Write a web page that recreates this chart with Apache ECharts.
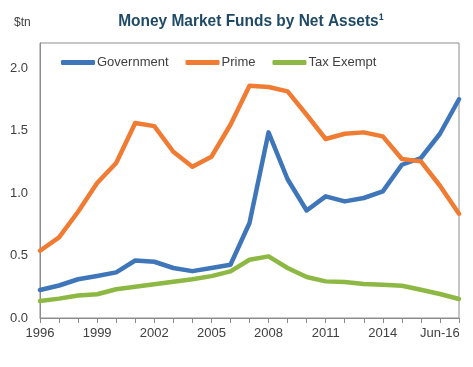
<!DOCTYPE html>
<html><head><meta charset="utf-8">
<script src="https://cdn.jsdelivr.net/npm/echarts@6/dist/echarts.min.js"></script>
<style>html,body{margin:0;padding:0;background:#fff}#c{width:473px;height:367px}</style>
</head><body><div id="c"></div>
<script>
const categories = ['1996','1997','1998','1999','2000','2001','2002','2003','2004','2005','2006','2007','2008','2009','2010','2011','2012','2013','2014','2015','Mar-16','Jun-16','Sep-16'];
const government = [0.224,0.26,0.31,0.336,0.365,0.46,0.45,0.40,0.375,0.40,0.426,0.76,1.485,1.11,0.86,0.973,0.933,0.96,1.013,1.226,1.28,1.474,1.75];
const prime = [0.538,0.645,0.85,1.08,1.24,1.56,1.535,1.33,1.21,1.29,1.546,1.858,1.848,1.813,1.626,1.432,1.474,1.485,1.453,1.272,1.253,1.058,0.834];
const taxExempt = [0.136,0.155,0.18,0.19,0.23,0.25,0.27,0.29,0.31,0.335,0.373,0.466,0.493,0.40,0.328,0.293,0.288,0.272,0.266,0.258,0.226,0.192,0.152];
const xLabelIdx = [0,3,6,9,12,15,18,21];

const chart = echarts.init(document.getElementById('c'));
const txt = '#404040';
function mk(name, data, color){
  return {name, type:'line', data, symbol:'none', smooth:false,
    lineStyle:{width:4.5, color, cap:'round', join:'round'}, itemStyle:{color}};
}
chart.setOption({
  animation:false,
  graphic:[
    {type:'text', x:251, y:21, scaleX:0.91, scaleY:1,
     style:{text:'Money Market Funds by Net Assets\u00B9', align:'center', verticalAlign:'middle',
       font:'bold 17px "Liberation Sans", Arial, sans-serif', fill:'#1F4A66'}}
  ],
  title:[
    {text:'$tn', left:9, top:12, textStyle:{fontFamily:'Liberation Sans, Arial, sans-serif', fontWeight:'normal', fontSize:12, color:txt}}
  ],
  legend:{left:56, top:51, itemWidth:34, itemHeight:5, itemGap:17, icon:'roundRect',
    textStyle:{fontFamily:'Liberation Sans, Arial, sans-serif', fontSize:13, color:txt, padding:[0,0,0,-3]},
    data:['Government','Prime','Tax Exempt']},
  grid:{left:40, right:14, top:43, bottom:49, show:true, borderColor:'#8c8c8c', borderWidth:1, containLabel:false},
  xAxis:{type:'category', data:categories, boundaryGap:false,
    axisLine:{lineStyle:{color:'#8c8c8c'}},
    axisTick:{show:true, interval:0, length:5, lineStyle:{color:'#8c8c8c'}},
    axisLabel:{interval:(i)=>xLabelIdx.includes(i), margin:9, fontFamily:'Liberation Sans, Arial, sans-serif', fontSize:13, color:txt},
    splitLine:{show:false}},
  yAxis:{type:'value', min:0, max:2.2, interval:0.5,
    axisLine:{show:true, lineStyle:{color:'#8c8c8c'}},
    axisTick:{show:false},
    axisLabel:{showMaxLabel:false, margin:12, formatter:(v)=>v.toFixed(1), fontFamily:'Liberation Sans, Arial, sans-serif', fontSize:13, color:txt},
    splitLine:{show:false}},
  series:[mk('Government', government, '#3F76BA'), mk('Prime', prime, '#F07C33'), mk('Tax Exempt', taxExempt, '#8DB844')]
});
</script></body></html>
